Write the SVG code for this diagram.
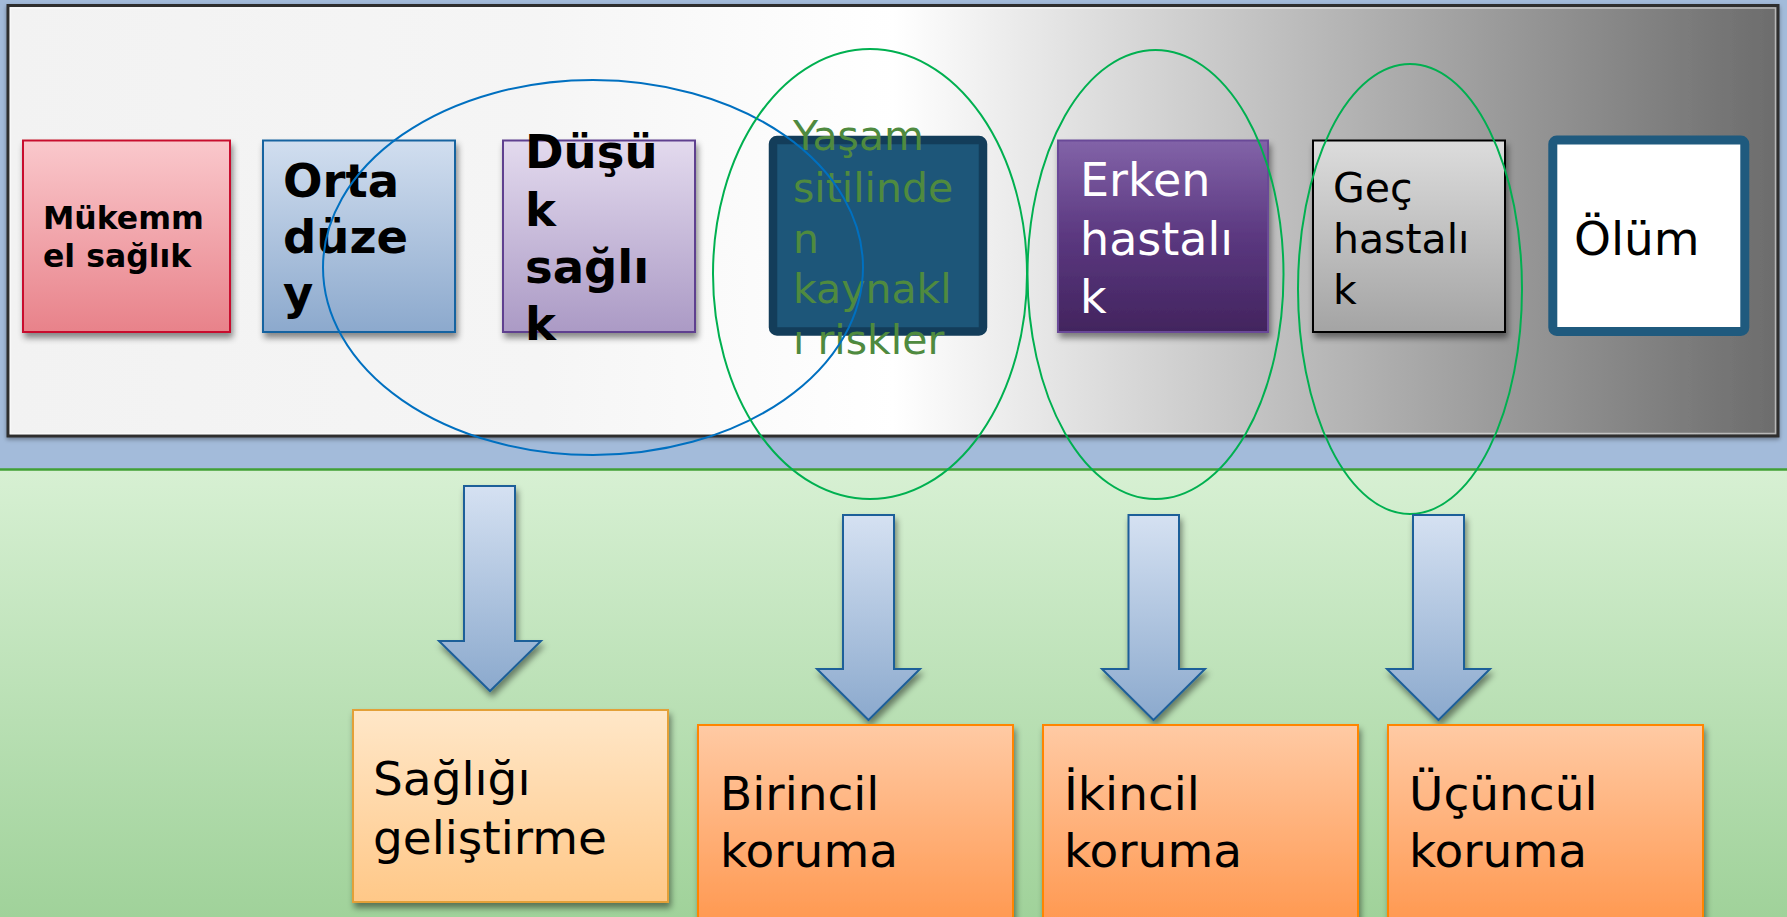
<svg xmlns="http://www.w3.org/2000/svg" width="1787" height="917" viewBox="0 0 1787 917">
<defs>
<linearGradient id="gFrame" x1="0" y1="0" x2="1" y2="0">
<stop offset="0" stop-color="#F2F2F2"/><stop offset="0.3" stop-color="#F5F5F5"/><stop offset="0.5" stop-color="#FFFFFF"/><stop offset="1" stop-color="#6C6C6C"/>
</linearGradient>
<linearGradient id="gGreen" x1="0" y1="0" x2="0" y2="1">
<stop offset="0" stop-color="#D7F0D3"/><stop offset="1" stop-color="#A0D29A"/>
</linearGradient>
<linearGradient id="gPink" x1="0" y1="0" x2="0" y2="1">
<stop offset="0" stop-color="#FAC8CC"/><stop offset="1" stop-color="#E8828A"/>
</linearGradient>
<linearGradient id="gBlue" x1="0" y1="0" x2="0" y2="1">
<stop offset="0" stop-color="#D1DEEF"/><stop offset="1" stop-color="#8CA9CD"/>
</linearGradient>
<linearGradient id="gLav" x1="0" y1="0" x2="0" y2="1">
<stop offset="0" stop-color="#E3DAEE"/><stop offset="1" stop-color="#AB9AC5"/>
</linearGradient>
<linearGradient id="gPurple" x1="0" y1="0" x2="0" y2="1">
<stop offset="0" stop-color="#8263A8"/><stop offset="0.5" stop-color="#5B3880"/><stop offset="1" stop-color="#42245E"/>
</linearGradient>
<linearGradient id="gGrey" x1="0" y1="0" x2="0" y2="1">
<stop offset="0" stop-color="#DCDCDC"/><stop offset="1" stop-color="#A4A4A4"/>
</linearGradient>
<linearGradient id="gArrow" x1="0" y1="0" x2="0" y2="1">
<stop offset="0" stop-color="#D5E1F2"/><stop offset="1" stop-color="#8BA9CD"/>
</linearGradient>
<linearGradient id="gPeach" x1="0" y1="0" x2="0" y2="1">
<stop offset="0" stop-color="#FFE7C8"/><stop offset="1" stop-color="#FFC888"/>
</linearGradient>
<linearGradient id="gOrange" x1="0" y1="0" x2="0" y2="1">
<stop offset="0" stop-color="#FFCAA4"/><stop offset="1" stop-color="#FF9850"/>
</linearGradient>
<filter id="sh" x="-10%" y="-10%" width="130%" height="130%">
<feDropShadow dx="2" dy="5" stdDeviation="3" flood-color="#000" flood-opacity="0.45"/>
</filter>
<filter id="shF" x="-2%" y="-5%" width="104%" height="112%">
<feDropShadow dx="0" dy="2" stdDeviation="2" flood-color="#000" flood-opacity="0.35"/>
</filter>
</defs>
<style>
text{font-family:"DejaVu Sans","Liberation Sans",sans-serif;}
.b{font-weight:bold;}
.ell{fill:none;stroke-width:2;}
.arrow{fill:url(#gArrow);stroke:#1F5F99;stroke-width:2;filter:url(#sh);}
</style>

<!-- background -->
<rect x="0" y="0" width="1787" height="470" fill="#A3BBDA"/>
<rect x="0" y="470" width="1787" height="447" fill="url(#gGreen)"/>
<line x1="0" y1="469.5" x2="1787" y2="469.5" stroke="#40A035" stroke-width="2.5"/>

<!-- frame -->
<rect x="8" y="5.5" width="1770" height="430.5" fill="url(#gFrame)" stroke="#2E2E2E" stroke-width="3" filter="url(#shF)"/>
<rect x="10.5" y="8" width="1765" height="425.5" fill="none" stroke="#FFFFFF" stroke-opacity="0.5" stroke-width="1.5"/>

<!-- top nodes -->
<g id="n-mukemmel">
<rect x="23" y="140.5" width="207" height="191.5" fill="url(#gPink)" stroke="#C8102E" stroke-width="2" filter="url(#sh)"/>
<text class="b" font-size="31.5" fill="#000"><tspan x="43" y="229">Mükemm</tspan><tspan x="43" y="266.5">el sağlık</tspan></text>
</g>
<g id="n-orta">
<rect x="263" y="140.5" width="192" height="191.5" fill="url(#gBlue)" stroke="#1663A0" stroke-width="2" filter="url(#sh)"/>
<text class="b" font-size="46.5" fill="#000"><tspan x="283" y="197">Orta</tspan><tspan x="283" y="253">düze</tspan><tspan x="283" y="309">y</tspan></text>
</g>
<g id="n-dusuk">
<rect x="503" y="140.5" width="192" height="191.5" fill="url(#gLav)" stroke="#5F3F8F" stroke-width="2" filter="url(#sh)"/>
<text class="b" font-size="46.5" fill="#000"><tspan x="525" y="168">Düşü</tspan><tspan x="525" y="226">k</tspan><tspan x="525" y="283">sağlı</tspan><tspan x="525" y="340">k</tspan></text>
</g>
<g id="n-yasam">
<rect x="773" y="140" width="210" height="191.5" rx="4" fill="#1D5679" stroke="#133D5A" stroke-width="8.5"/>
<text font-size="41" fill="#4F8A3F"><tspan x="793" y="150">Yaşam</tspan><tspan x="793" y="201.5">sitilinde</tspan><tspan x="793" y="252.5">n</tspan><tspan x="793" y="303">kaynakl</tspan><tspan x="793" y="353.5">ı riskler</tspan></text>
</g>
<g id="n-erken">
<rect x="1058" y="140.5" width="210" height="191.5" fill="url(#gPurple)" stroke="#6A4A98" stroke-width="2" filter="url(#sh)"/>
<text font-size="46" fill="#FFFFFF"><tspan x="1080" y="196">Erken</tspan><tspan x="1080" y="255">hastalı</tspan><tspan x="1080" y="312.5">k</tspan></text>
</g>
<g id="n-gec">
<rect x="1313" y="140.5" width="192" height="191.5" fill="url(#gGrey)" stroke="#000" stroke-width="2" filter="url(#sh)"/>
<text font-size="41" fill="#000"><tspan x="1333" y="201.5">Geç</tspan><tspan x="1333" y="253">hastalı</tspan><tspan x="1333" y="303.5">k</tspan></text>
</g>
<g id="n-olum">
<rect x="1552.8" y="140" width="192" height="191.5" rx="4" fill="#FFFFFF" stroke="#1F5A7E" stroke-width="9"/>
<text font-size="47" fill="#000"><tspan x="1574" y="255">Ölüm</tspan></text>
</g>

<!-- ellipses -->
<g id="groups">
<ellipse class="ell" cx="593" cy="267.5" rx="270" ry="187.5" stroke="#0070C0"/>
<ellipse class="ell" cx="870" cy="274" rx="157" ry="225" stroke="#00B050"/>
<ellipse class="ell" cx="1155.5" cy="274.5" rx="128" ry="224.5" stroke="#00B050"/>
<ellipse class="ell" cx="1410" cy="289" rx="112" ry="225" stroke="#00B050"/>
</g>

<!-- connectors -->
<g id="connectors">
<polygon class="arrow" points="464,486 515,486 515,641 541,641 490,691 439,641 464,641"/>
<polygon class="arrow" points="843,515 894,515 894,669 920,669 868.5,720 817,669 843,669"/>
<polygon class="arrow" points="1128.5,515 1179,515 1179,669 1205,669 1153.5,720 1102,669 1128.5,669"/>
<polygon class="arrow" points="1413,515 1464,515 1464,669 1490,669 1438.5,720 1387,669 1413,669"/>
</g>

<!-- bottom nodes -->
<g id="n-saglik">
<rect x="353" y="710" width="315" height="192" fill="url(#gPeach)" stroke="#E3A038" stroke-width="2" filter="url(#sh)"/>
<text font-size="47" fill="#000"><tspan x="373" y="795">Sağlığı</tspan><tspan x="373" y="854">geliştirme</tspan></text>
</g>
<g id="n-birincil">
<rect x="698" y="725" width="315" height="200" fill="url(#gOrange)" stroke="#FF8500" stroke-width="2" filter="url(#sh)"/>
<text font-size="47" fill="#000"><tspan x="720" y="810">Birincil</tspan><tspan x="720" y="867">koruma</tspan></text>
</g>
<g id="n-ikincil">
<rect x="1043" y="725" width="315" height="200" fill="url(#gOrange)" stroke="#FF8500" stroke-width="2" filter="url(#sh)"/>
<text font-size="47" fill="#000"><tspan x="1064" y="810">İkincil</tspan><tspan x="1064" y="867">koruma</tspan></text>
</g>
<g id="n-ucuncul">
<rect x="1388" y="725" width="315" height="200" fill="url(#gOrange)" stroke="#FF8500" stroke-width="2" filter="url(#sh)"/>
<text font-size="47" fill="#000"><tspan x="1409" y="810">Üçüncül</tspan><tspan x="1409" y="867">koruma</tspan></text>
</g>
</svg>
